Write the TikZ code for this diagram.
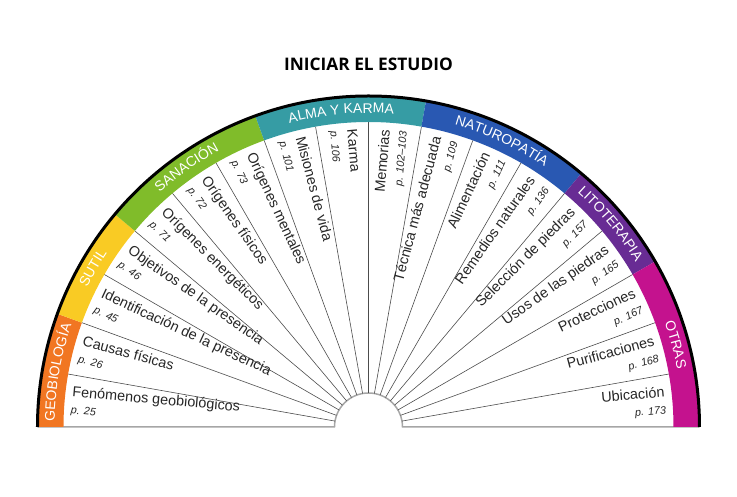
\documentclass[tikz,border=0pt]{standalone}
\usepackage{fontspec}
\setmainfont{Liberation Sans}
\newfontfamily\titlefont{Open Sans}
\usetikzlibrary{decorations.text}

\definecolor{geobio}{RGB}{241,118,34}
\definecolor{sutil}{RGB}{249,203,36}
\definecolor{sanacion}{RGB}{128,188,42}
\definecolor{alma}{RGB}{54,156,164}
\definecolor{naturo}{RGB}{41,88,178}
\definecolor{lito}{RGB}{104,44,148}
\definecolor{otras}{RGB}{196,18,142}

\newcommand{\pg}[1]{{\fontsize{10.8}{17}\itshape\selectfont #1}}

\begin{document}
\begin{tikzpicture}[
		x=1pt, y=1pt,
		lside/.style={anchor=west, align=left, inner sep=0pt, rotate=#1-180,
			font=\fontsize{14.4}{17}\selectfont, text=black!85},
		rside/.style={anchor=east, align=right, inner sep=0pt, rotate=#1,
			font=\fontsize{14.4}{17}\selectfont, text=black!85},
		spoke/.style={draw=black!70, line width=0.6pt},
		base/.style={draw=black!35, line width=1.5pt},
		bandtext/.style={decorate, decoration={text along path, text align=center,
			text color=white, text={|\fontsize{14}{14}\selectfont|#1}}}
		]
		\useasboundingbox (-368.5,-70) rectangle (368.5,427);
		
		% title
		\node[font=\titlefont\bfseries\fontsize{17.3}{20}\selectfont] (titulo) at (0,363) {INICIAR EL ESTUDIO};
		
		% base line and spokes
		\draw[base] (-331,0) -- (-34,0) arc[start angle=180, end angle=0, radius=34] -- (331,0);
		\foreach \a in {10,20,...,170}
			\draw[spoke] (\a:34) -- (\a:305);
		
		% coloured band
		\fill[geobio] (180:305) arc[start angle=180, end angle=160, radius=305] -- (160:330) arc[start angle=160, end angle=180, radius=330] -- cycle;
		\fill[sutil] (160:305) arc[start angle=160, end angle=140, radius=305] -- (140:330) arc[start angle=140, end angle=160, radius=330] -- cycle;
		\fill[sanacion] (140:305) arc[start angle=140, end angle=110, radius=305] -- (110:330) arc[start angle=110, end angle=140, radius=330] -- cycle;
		\fill[alma] (110:305) arc[start angle=110, end angle=80, radius=305] -- (80:330) arc[start angle=80, end angle=110, radius=330] -- cycle;
		\fill[naturo] (80:305) arc[start angle=80, end angle=50, radius=305] -- (50:330) arc[start angle=50, end angle=80, radius=330] -- cycle;
		\fill[lito] (50:305) arc[start angle=50, end angle=30, radius=305] -- (30:330) arc[start angle=30, end angle=50, radius=330] -- cycle;
		\fill[otras] (30:305) arc[start angle=30, end angle=0, radius=305] -- (0:330) arc[start angle=0, end angle=30, radius=330] -- cycle;
		\draw[line width=3pt] (180:331) arc[start angle=180, end angle=0, radius=331];
		
		\path[bandtext=GEOBIOLOGÍA] (180:314) arc[start angle=180, end angle=160, radius=314];
		\path[bandtext=SUTIL] (160:314) arc[start angle=160, end angle=140, radius=314];
		\path[bandtext=SANACIÓN] (140:314) arc[start angle=140, end angle=110, radius=314];
		\path[bandtext=ALMA Y KARMA] (110:314) arc[start angle=110, end angle=80, radius=314];
		\path[bandtext=NATUROPATÍA] (80:314) arc[start angle=80, end angle=50, radius=314];
		\path[bandtext=LITOTERAPIA] (50:314) arc[start angle=50, end angle=30, radius=314];
		\path[bandtext=OTRAS] (30:314) arc[start angle=30, end angle=0, radius=314];
		
		% left half
		\node[lside=175] (fenomenos) at (175:298) {Fenómenos geobiológicos\\\pg{p. 25}};
		\node[lside=165] (causas) at (165:298) {Causas físicas\\\pg{p. 26}};
		\node[lside=155] (identif) at (155:298) {Identificación de la presencia\\\pg{p. 45}};
		\node[lside=145] (objetivos) at (145:298) {Objetivos de la presencia\\\pg{p. 46}};
		\node[lside=135] (energeticos) at (135:298) {Orígenes energéticos\\\pg{p. 71}};
		\node[lside=125] (fisicos) at (125:298) {Orígenes físicos\\\pg{p. 72}};
		\node[lside=115] (mentales) at (115:298) {Orígenes mentales\\\pg{p. 73}};
		\node[lside=105] (misiones) at (105:298) {Misiones de vida\\\pg{p. 101}};
		\node[lside=95] (karma) at (95:298) {Karma\\\pg{p. 106}};
		
		% right half
		\node[rside=85] (memorias) at (85:298) {Memorias\\\pg{p. 102–103}};
		\node[rside=75] (tecnica) at (75:298) {Técnica más adecuada\\\pg{p. 109}};
		\node[rside=65] (alimentacion) at (65:298) {Alimentación\\\pg{p. 111}};
		\node[rside=55] (remedios) at (55:298) {Remedios naturales\\\pg{p. 136}};
		\node[rside=45] (seleccion) at (45:298) {Selección de piedras\\\pg{p. 157}};
		\node[rside=35] (usos) at (35:298) {Usos de las piedras\\\pg{p. 165}};
		\node[rside=25] (protecciones) at (25:298) {Protecciones\\\pg{p. 167}};
		\node[rside=15] (purificaciones) at (15:298) {Purificaciones\\\pg{p. 168}};
		\node[rside=5] (ubicacion) at (5:298) {Ubicación\\\pg{p. 173}};
\end{tikzpicture}
\end{document}
